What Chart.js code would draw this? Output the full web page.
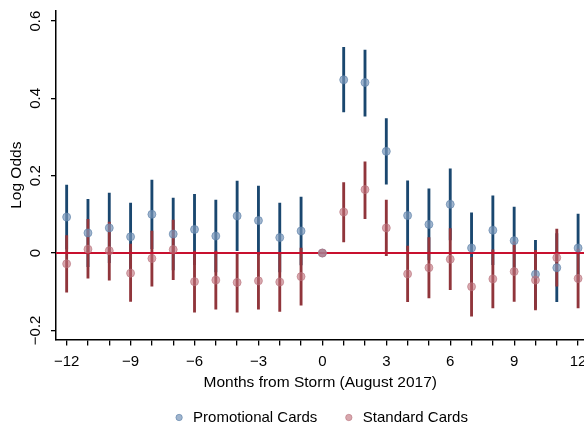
<!DOCTYPE html>
<html>
<head>
<meta charset="utf-8">
<script src="https://cdn.jsdelivr.net/npm/chart.js@4"></script>
<style>
  html, body { margin: 0; padding: 0; background: #fff; overflow: hidden; }
  #wrap { width: 594px; height: 435px; }
</style>
</head>
<body>
<div id="wrap"><canvas id="chart"></canvas></div>
<script>
// meses respecto a la tormenta
const months = [-12,-11,-10,-9,-8,-7,-6,-5,-4,-3,-2,-1,0,1,2,3,4,5,6,7,8,9,10,11,12];

// Promotional Cards: estimacion e intervalo
const promoEst = [0.093,0.052,0.065,0.042,0.100,0.049,0.061,0.044,0.096,0.084,0.040,0.057,0,0.448,0.441,0.263,0.097,0.074,0.126,0.013,0.059,0.032,-0.055,-0.038,0.013];
const promoHi  = [0.176,0.139,0.155,0.129,0.189,0.142,0.152,0.137,0.186,0.173,0.129,0.145,null,0.532,0.525,0.348,0.187,0.166,0.218,0.104,0.148,0.119,0.033,0.050,0.101];
const promoLo  = [0.010,-0.035,-0.025,-0.045,0.011,-0.044,-0.030,-0.049,0.006,-0.005,-0.049,-0.031,null,0.365,0.354,0.178,0.007,-0.018,0.034,-0.078,-0.030,-0.055,-0.143,-0.126,-0.075];

// Standard Cards
const stdEst = [-0.028,0.010,0.006,-0.052,-0.014,0.009,-0.074,-0.070,-0.076,-0.072,-0.075,-0.061,0,0.106,0.164,0.065,-0.054,-0.038,-0.016,-0.087,-0.067,-0.048,-0.070,-0.012,-0.066];
const stdHi  = [0.045,0.087,0.080,0.023,0.057,0.085,0.005,0.005,0.001,0.001,0.001,0.013,null,0.182,0.236,0.137,0.018,0.040,0.063,-0.011,0.008,0.029,0.007,0.062,0.010];
const stdLo  = [-0.101,-0.065,-0.070,-0.125,-0.086,-0.069,-0.153,-0.145,-0.153,-0.145,-0.151,-0.135,null,0.029,0.089,-0.007,-0.126,-0.116,-0.095,-0.163,-0.142,-0.125,-0.147,-0.086,-0.142];

const xMin = -12.5, xMax = 12.3;
const yMin = -0.2234, yMax = 0.626;
const xLabelStep = 3;

const FONT = '"Liberation Sans", Arial, Helvetica, sans-serif';

function intervals(lo, hi) {
    const out = [];
    months.forEach((m, i) => {
        if (lo[i] !== null && hi[i] !== null) out.push({ x: m, y: [lo[i], hi[i]] });
    });
    return out;
}
function points(est) {
    return months.map((m, i) => ({ x: m, y: est[i] }));
}

const ctx = document.getElementById('chart').getContext('2d');
new Chart(ctx, {
    type: 'scatter',
    data: {
        datasets: [
            {
                label: 'Promotional Cards',
                type: 'scatter',
                data: points(promoEst),
                pointRadius: 4,
                pointBackgroundColor: 'rgba(120,150,185,0.7)',
                pointBorderColor: 'rgba(95,130,170,0.8)',
                pointBorderWidth: 0.8,
                order: 1
            },
            {
                label: 'Standard Cards',
                type: 'scatter',
                data: points(stdEst),
                pointRadius: 4,
                pointBackgroundColor: 'rgba(190,110,120,0.6)',
                pointBorderColor: 'rgba(185,115,125,0.75)',
                pointBorderWidth: 0.8,
                order: 0
            },
            {
                label: 'zero',
                type: 'line',
                data: [{ x: xMin, y: 0 }, { x: xMax, y: 0 }],
                borderColor: '#c8102e',
                borderWidth: 2,
                pointRadius: 0,
                order: 2
            },
            {
                label: 'stdCI',
                type: 'bar',
                data: intervals(stdLo, stdHi),
                backgroundColor: '#90353b',
                barThickness: 2.2,
                grouped: false,
                borderSkipped: false,
                order: 3
            },
            {
                label: 'promoCI',
                type: 'bar',
                data: intervals(promoLo, promoHi),
                backgroundColor: '#1a476f',
                barThickness: 2.2,
                grouped: false,
                borderSkipped: false,
                order: 4
            }
        ]
    },
    options: {
        responsive: true,
        maintainAspectRatio: false,
        animation: false,
        layout: { padding: { top: 11, right: 0, bottom: 0, left: 0 } },
        plugins: {
            tooltip: { enabled: false },
            legend: {
                position: 'bottom',
                fullSize: false,
                labels: {
                    filter: item => item.text === 'Promotional Cards' || item.text === 'Standard Cards',
                    sort: (a, b) => a.datasetIndex - b.datasetIndex,
                    usePointStyle: true,
                    pointStyle: 'circle',
                    boxWidth: 13,
                    boxHeight: 4.5,
                    padding: 25,
                    color: '#000',
                    font: { family: FONT, size: 15 }
                }
            }
        },
        scales: {
            x: {
                type: 'linear',
                min: xMin,
                max: xMax,
                offset: false,
                grid: { display: true, drawOnChartArea: false, drawTicks: true, tickLength: 6, color: '#000', lineWidth: 1.3, offset: false },
                border: { display: true, color: '#000', width: 1.5 },
                ticks: {
                    stepSize: 1,
                    includeBounds: false,
                    autoSkip: false,
                    maxRotation: 0,
                    padding: 7.5,
                    color: '#000',
                    font: { family: FONT, size: 15 },
                    callback: v => (v % xLabelStep === 0 ? String(v).replace('-', '\u2212') : '')
                },
                title: {
                    display: true,
                    text: 'Months from Storm (August 2017)',
                    color: '#000',
                    font: { family: FONT, size: 15.5 },
                    padding: { top: -5, bottom: -7 }
                }
            },
            y: {
                min: yMin,
                max: yMax,
                grid: { display: true, drawOnChartArea: false, drawTicks: true, tickLength: 5, color: '#000', lineWidth: 1.3 },
                border: { display: true, color: '#000', width: 1.5 },
                ticks: {
                    stepSize: 0.2,
                    includeBounds: false,
                    minRotation: 90,
                    maxRotation: 90,
                    crossAlign: 'center',
                    padding: 0,
                    color: '#000',
                    font: { family: FONT, size: 15 },
                    callback: v => (Math.abs(v) < 1e-9 ? '0' : v.toFixed(1).replace('-', '\u2212'))
                },
                title: {
                    display: true,
                    text: 'Log Odds',
                    color: '#000',
                    font: { family: FONT, size: 15.5 },
                    padding: { top: 7, bottom: 4 }
                },
                afterFit: scale => { scale.width = 56; }
            }
        }
    }
});
</script>
</body>
</html>
